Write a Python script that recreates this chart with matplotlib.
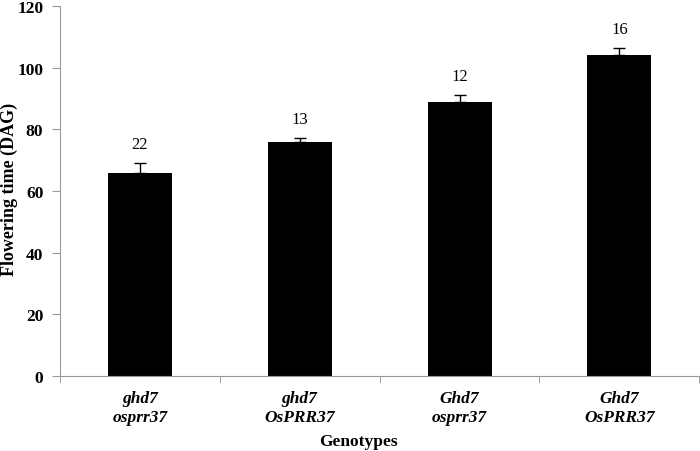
import matplotlib
matplotlib.use('Agg')
from matplotlib import pyplot as plt

plt.rcParams['font.family'] = ['Liberation Serif', 'DejaVu Serif']

genotypes = ['ghd7\nosprr37', 'ghd7\nOsPRR37', 'Ghd7\nosprr37', 'Ghd7\nOsPRR37']
flowering = [66, 76, 89, 104]
errors = [3.0, 1.2, 2.0, 2.5]
counts = ['22', '13', '12', '16']

fig = plt.figure(figsize=(7, 4.52), dpi=100)
ax = fig.add_axes([60/700, 1 - 377/452, 1 - 60/700 - 0.001, 370/452])

pos = list(range(len(genotypes)))
ax.bar(pos, flowering, width=0.4, color='black', zorder=2)
ax.errorbar(pos, flowering, yerr=[[0]*4, errors], fmt='none', ecolor='black',
            elinewidth=1, capsize=4, capthick=1, zorder=3)

for p, v, e, c in zip(pos, flowering, errors, counts):
    ax.annotate(c, (p, v + e), xytext=(0, 8), textcoords='offset points',
                ha='center', va='bottom', fontsize=12)

ax.set_xlim(-0.5, 3.5)
ax.set_ylim(0, 120)
ax.set_yticks(range(0, 121, 20))
ax.set_xticks(pos)
ax.set_xticklabels(genotypes, fontsize=12.5, fontweight='bold', fontstyle='italic',
                   linespacing=1.3)
ax.set_xticks([-0.5, 0.5, 1.5, 2.5, 3.5], minor=True)
ax.tick_params(axis='x', which='major', length=0, pad=10)
ax.tick_params(axis='x', which='minor', length=5, color='#999999', direction='out')
ax.tick_params(axis='y', length=6, color='#999999', direction='out', labelsize=12.5, pad=6)
for lab in ax.get_yticklabels():
    lab.set_fontweight('bold')

for s in ['top', 'right']:
    ax.spines[s].set_visible(False)
for s in ['left', 'bottom']:
    ax.spines[s].set_color('#999999')

fig.text(358/700, 1 - 442/452, 'Genotypes', ha='center', va='center',
         fontsize=12.5, fontweight='bold')
fig.text(9/700, 1 - 189/452, 'Flowering time (DAG)', rotation=90, ha='center',
         va='center', fontsize=13, fontweight='bold')

fig.savefig('out.png', dpi=100)
